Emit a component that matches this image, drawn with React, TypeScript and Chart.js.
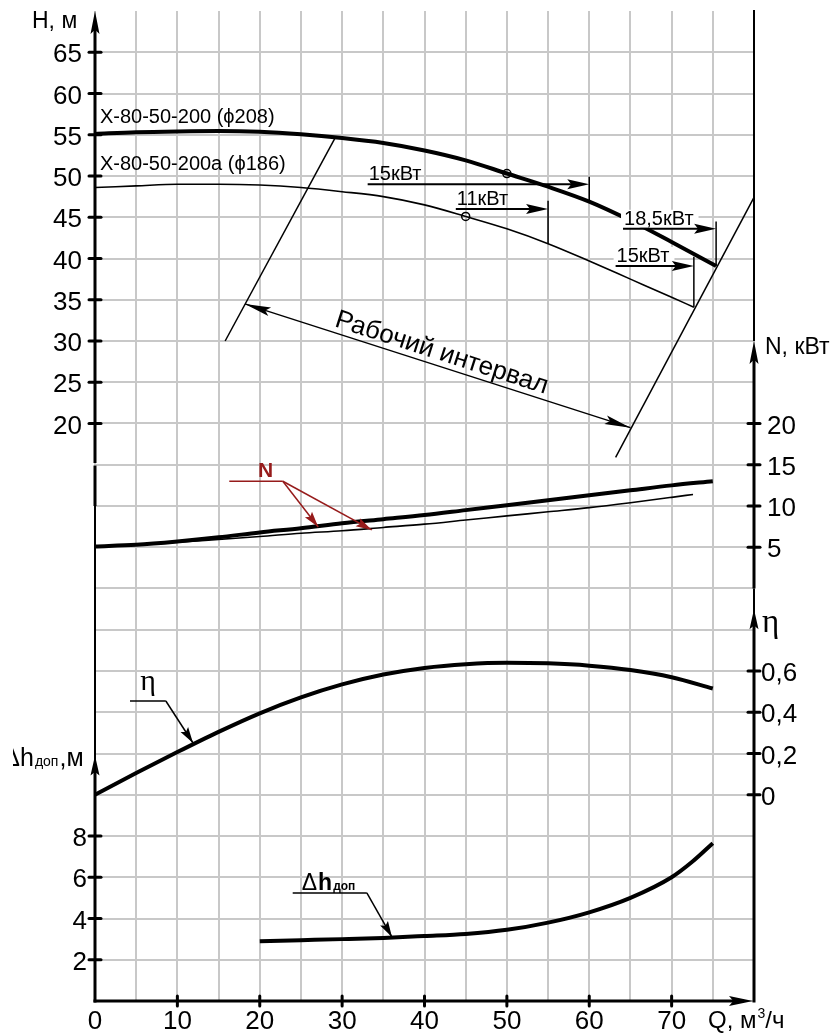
import React, { useEffect, useRef } from 'react';
import { Chart, registerables } from 'chart.js';

Chart.register(...registerables);

// ---------- Data ----------
// Head H(Q), impeller ϕ208 (thick) and ϕ186 (thin)
const Q_H208 = [0, 5, 10, 15, 20, 25, 30, 35, 40, 45, 50, 55, 60, 65, 70, 75.4];
const H_208 = [55.1, 55.3, 55.4, 55.45, 55.35, 55.05, 54.6, 54.0, 53.1, 51.9, 50.3, 48.7, 46.9, 44.6, 42.0, 39.1];
const Q_H186 = [0, 5, 10, 15, 20, 25, 30, 35, 40, 45, 50, 55, 60, 65, 70, 72.7];
const H_186 = [48.6, 48.8, 49.0, 49.0, 48.9, 48.6, 48.1, 47.5, 46.5, 45.1, 43.6, 41.8, 39.7, 37.5, 35.3, 34.1];
// Power N(Q), кВт
const Q_N208 = [0, 5, 10, 15, 20, 25, 30, 35, 40, 45, 50, 55, 60, 65, 70, 75];
const N_208 = [5.1, 5.3, 5.7, 6.2, 6.8, 7.3, 7.9, 8.4, 8.9, 9.5, 10.1, 10.7, 11.3, 11.9, 12.5, 13.0];
const Q_N186 = [0, 5, 10, 15, 20, 25, 30, 35, 40, 45, 50, 55, 60, 65, 70, 72.6];
const N_186 = [5.1, 5.3, 5.6, 5.95, 6.3, 6.7, 7.0, 7.4, 7.8, 8.3, 8.8, 9.3, 9.8, 10.4, 11.05, 11.4];
// Efficiency η(Q)
const Q_ETA = [0, 5, 10, 15, 20, 25, 30, 35, 40, 45, 50, 55, 60, 65, 70, 75];
const ETA = [0.0, 0.105, 0.207, 0.305, 0.395, 0.472, 0.535, 0.583, 0.615, 0.633, 0.64, 0.637, 0.626, 0.605, 0.57, 0.515];
// Allowed NPSH Δh_доп(Q), м
const Q_DH = [20, 25, 30, 35, 40, 45, 50, 55, 60, 65, 70, 72.5, 75];
const DH = [2.9, 2.95, 3.0, 3.06, 3.15, 3.25, 3.45, 3.8, 4.3, 5.0, 6.0, 6.75, 7.65];

// Duty points (open circles)
const MARK_Q = [50, 45];
const MARK_H = [50.3, 45.1];

// Working interval boundaries (Q, H) and its dimension arrow
const WORK_LEFT_Q = [15.8, 29.2];
const WORK_LEFT_H = [30.0, 54.7];
const WORK_RIGHT_Q = [63.2, 80];
const WORK_RIGHT_H = [15.9, 47.4];
const WORK_ARROW_Q = [18.2, 65.0];
const WORK_ARROW_H = [34.5, 19.5];
const WORK_LABEL = 'Рабочий интервал';

// Motor power markers
const POWER_LABELS = ['15кВт', '11кВт', '18,5кВт', '15кВт'];
const POWER_Q_FROM = [33.1, 43.8, 64.1, 63.2];
const POWER_Q_TO = [60.0, 55.0, 75.4, 72.7];
const POWER_H_LINE = [49.0, 46.0, 43.6, 39.1];
const POWER_H_TOP = [49.9, 47.0, 44.5, 40.2];
const POWER_H_CURVE = [46.9, 41.8, 39.1, 34.1];
const POWER_BG = [false, false, true, true];

// Curve names
const CURVE_NAMES = ['Х-80-50-200 (ϕ208)', 'Х-80-50-200а (ϕ186)'];
const CURVE_NAME_Q = [0.6, 0.6];
const CURVE_NAME_H = [56.4, 50.7];

// Leader annotations
const N_LEADER_Q = [16.3, 22.8, 27.1, 33.6];
const N_LEADER_V = [13.0, 13.0, 7.45, 7.1];
const N_LABEL_AT = [19.8, 13.5];
const ETA_LEADER_Q = [4.25, 8.6, 11.9];
const ETA_LEADER_V = [0.4545, 0.4545, 0.251];
const ETA_LABEL_AT = [5.5, 0.508];
const DH_LEADER_Q = [24.0, 33.0, 36.05];
const DH_LEADER_V = [5.24, 5.24, 3.1];
const DH_LABEL_AT = [25.1, 5.38];

// Tick labels
const Q_TICKS = [0, 10, 20, 30, 40, 50, 60, 70];
const H_TICKS = [20, 25, 30, 35, 40, 45, 50, 55, 60, 65];
const DH_TICKS = [2, 4, 6, 8];
const N_TICKS = [5, 10, 15, 20];
const ETA_TICKS = [0, 0.2, 0.4, 0.6];

// Axis extents
const Q_RANGE = [0, 80];
const H_RANGE = [-50, 70];
const DH_RANGE = [0, 48];
const N_RANGE = [-50, 70];
const ETA_RANGE = [-1, 3.8];
const H_AXIS_TOP = 70;
const DH_AXIS_TOP = 11.9;
const N_AXIS_TOP = 30;
const ETA_AXIS_TOP = 0.9;

const FONT = '"Liberation Sans", Arial, sans-serif';
const SERIF = '"Liberation Serif", "Times New Roman", serif';
const GRID = '#c8c8c8';
const RED = '#961b1b';
const TICK_SIZE = 26;

const pts = (xs: number[], ys: number[]) => xs.map((x, i) => ({ x, y: ys[i] }));
const has = (arr: number[], v: number) => arr.some((t) => Math.abs(t - v) < 1e-6);
const etaLabel = (t: number) => (t === 0 ? '0' : t.toFixed(1).replace('.', ','));

function arrowHead(ctx: CanvasRenderingContext2D, tx: number, ty: number, fx: number, fy: number, len: number, half: number, color: string) {
  const a = Math.atan2(ty - fy, tx - fx);
  const c = Math.cos(a), s = Math.sin(a);
  const bx = tx - c * len, by = ty - s * len;
  ctx.beginPath();
  ctx.moveTo(tx, ty);
  ctx.lineTo(bx - s * half, by + c * half);
  ctx.lineTo(tx - c * len * 0.82, ty - s * len * 0.82);
  ctx.lineTo(bx + s * half, by - c * half);
  ctx.closePath();
  ctx.fillStyle = color;
  ctx.fill();
}

const decorPlugin = {
  id: 'decor',
  afterDatasetsDraw(chart: any) {
    const ctx: CanvasRenderingContext2D = chart.ctx;
    const xs = chart.scales.x, yH = chart.scales.yl, yD = chart.scales.yl2, yN = chart.scales.yr, yE = chart.scales.yr2;
    const X = (q: number) => xs.getPixelForValue(q);
    const H = (v: number) => yH.getPixelForValue(v);
    const D = (v: number) => yD.getPixelForValue(v);
    const N = (v: number) => yN.getPixelForValue(v);
    const E = (v: number) => yE.getPixelForValue(v);
    const seg = (x1: number, y1: number, x2: number, y2: number, w: number, color = '#000', cap: CanvasLineCap = 'butt') => {
      ctx.beginPath();
      ctx.moveTo(x1, y1);
      ctx.lineTo(x2, y2);
      ctx.lineWidth = w;
      ctx.strokeStyle = color;
      ctx.lineCap = cap;
      ctx.stroke();
    };
    const text = (s: string, x: number, y: number, size: number, opts: any = {}) => {
      ctx.font = `${opts.bold ? 'bold ' : ''}${size}px ${opts.family || FONT}`;
      ctx.fillStyle = opts.color || '#000';
      ctx.textAlign = opts.align || 'left';
      ctx.textBaseline = opts.baseline || 'alphabetic';
      ctx.fillText(s, x, y);
      return ctx.measureText(s).width;
    };
    ctx.save();

    const xl = X(Q_RANGE[0]);
    const xr = X(Q_RANGE[1]);
    const yb = D(0);

    // ----- Left axes -----
    const hTop = H(H_AXIS_TOP);
    seg(xl, hTop + 10, xl, H(15.2), 3);
    seg(xl, H(14.9), xl, H(10), 3);
    seg(xl, H(10), xl, D(DH_AXIS_TOP) + 10, 2);
    arrowHead(ctx, xl, hTop, xl, hTop + 50, 23, 4.5, '#000');
    const dTop = D(DH_AXIS_TOP);
    seg(xl, yb + 1.5, xl, dTop + 10, 3);
    arrowHead(ctx, xl, dTop, xl, dTop + 50, 20, 4.5, '#000');
    H_TICKS.forEach((v) => seg(xl - 6, H(v), xl + 6, H(v), 3, '#000', 'round'));
    DH_TICKS.forEach((v) => {
      seg(xl - 6, D(v), xl + 6, D(v), 3, '#000', 'round');
      text(String(v), xl - 8, D(v) + 3, TICK_SIZE, { align: 'right', baseline: 'middle' });
    });

    // ----- Right axes -----
    const nTop = N(N_AXIS_TOP);
    const eTop = E(ETA_AXIS_TOP);
    seg(xr, H(H_AXIS_TOP) - 1, xr, nTop, 2);
    seg(xr, N(0), xr, nTop + 10, 3);
    arrowHead(ctx, xr, nTop, xr, nTop + 50, 23, 4.5, '#000');
    seg(xr, N(0), xr, eTop + 10, 2);
    seg(xr, yb + 1.5, xr, eTop + 10, 3);
    arrowHead(ctx, xr, eTop, xr, eTop + 50, 20, 4.5, '#000');
    N_TICKS.forEach((v) => seg(xr - 6, N(v), xr + 6, N(v), 3, '#000', 'round'));
    ETA_TICKS.forEach((v) => {
      seg(xr - 6, E(v), xr + 6, E(v), 3, '#000', 'round');
      text(etaLabel(v), xr + 7, E(v) + 3, TICK_SIZE, { baseline: 'middle' });
    });

    // ----- X axis -----
    seg(xl - 1.5, yb, xr - 10, yb, 3);
    arrowHead(ctx, xr - 1, yb, xr - 60, yb, 24, 5, '#000');
    Q_TICKS.filter((q) => q > 0).forEach((q) => seg(X(q), yb - 5, X(q), yb + 5, 3, '#000', 'round'));

    // ----- Axis titles -----
    text('H, м', xl - 63, hTop + 17, 23);
    text('N, кВт', xr + 11, nTop + 13, 23);
    text('η', xr + 8, eTop + 23, 33, { family: SERIF });
    {
      const base = xr - 46;
      const y = yb + 27;
      const w = text('Q, м', base, y, 24);
      const w3 = text('3', base + w + 1, y - 10, 14);
      text('/ч', base + w + w3 + 1, y, 24);
    }
    {
      ctx.save();
      ctx.beginPath();
      ctx.rect(13, dTop - 30, 100, 50);
      ctx.clip();
      const y = dTop + 10;
      ctx.font = `25px ${FONT}`;
      const wd = ctx.measureText('Δ').width;
      let x = 20 - wd;
      x += text('Δ', x, y, 25);
      x += text('h', x, y, 25);
      x += text('доп', x + 1, y, 14) + 2;
      text(',м', x, y, 25);
      ctx.restore();
    }

    // ----- Curve names -----
    CURVE_NAMES.forEach((s, i) => text(s, X(CURVE_NAME_Q[i]), H(CURVE_NAME_H[i]), 20));

    // ----- Working interval -----
    {
      const x1 = X(WORK_ARROW_Q[0]), y1 = H(WORK_ARROW_H[0]);
      const x2 = X(WORK_ARROW_Q[1]), y2 = H(WORK_ARROW_H[1]);
      seg(x1, y1, x2, y2, 1.5);
      arrowHead(ctx, x1, y1, x2, y2, 26, 4.5, '#000');
      arrowHead(ctx, x2, y2, x1, y1, 26, 4.5, '#000');
      const a = Math.atan2(y2 - y1, x2 - x1);
      const mx = (x1 + x2) / 2, my = (y1 + y2) / 2;
      ctx.save();
      ctx.translate(mx + Math.sin(a) * 6, my - Math.cos(a) * 6);
      ctx.rotate(a);
      text(WORK_LABEL, 0, 0, 26, { align: 'center' });
      ctx.restore();
    }

    // ----- Power markers -----
    POWER_LABELS.forEach((s, i) => {
      const xa = X(POWER_Q_FROM[i]), xb = X(POWER_Q_TO[i]);
      const yl = H(POWER_H_LINE[i]);
      ctx.font = `20px ${FONT}`;
      const w = ctx.measureText(s).width;
      if (POWER_BG[i]) {
        ctx.fillStyle = '#fff';
        ctx.fillRect(xa - 2, yl - 19, w + 8, 18);
      }
      text(s, xa + 1, yl - 4, 20);
      seg(xa, yl, xb - 12, yl, 2);
      arrowHead(ctx, xb, yl, xa, yl, 22, 5, '#000');
      seg(xb, H(POWER_H_TOP[i]), xb, H(POWER_H_CURVE[i]), 1.5);
    });

    // ----- N leader (red) -----
    {
      const p = N_LEADER_Q.map((q, i) => [X(q), N(N_LEADER_V[i])]);
      text('N', X(N_LABEL_AT[0]), N(N_LABEL_AT[1]), 21, { bold: true, color: RED });
      seg(p[0][0], p[0][1], p[1][0], p[1][1], 1.5, RED);
      seg(p[1][0], p[1][1], p[2][0], p[2][1], 1.5, RED);
      seg(p[1][0], p[1][1], p[3][0], p[3][1], 1.5, RED);
      arrowHead(ctx, p[2][0], p[2][1], p[1][0], p[1][1], 16, 4.5, RED);
      arrowHead(ctx, p[3][0], p[3][1], p[1][0], p[1][1], 16, 4.5, RED);
    }

    // ----- η leader -----
    {
      const p = ETA_LEADER_Q.map((q, i) => [X(q), E(ETA_LEADER_V[i])]);
      text('η', X(ETA_LABEL_AT[0]), E(ETA_LABEL_AT[1]), 30, { family: SERIF });
      seg(p[0][0], p[0][1], p[1][0], p[1][1], 1.5);
      seg(p[1][0], p[1][1], p[2][0], p[2][1], 1.5);
      arrowHead(ctx, p[2][0], p[2][1], p[1][0], p[1][1], 16, 4.5, '#000');
    }

    // ----- Δh leader -----
    {
      const p = DH_LEADER_Q.map((q, i) => [X(q), D(DH_LEADER_V[i])]);
      let x = X(DH_LABEL_AT[0]);
      const y = D(DH_LABEL_AT[1]);
      x += text('Δ', x, y, 23);
      x += text('h', x + 1, y, 23, { bold: true }) + 1;
      text('доп', x + 1, y, 12, { bold: true });
      seg(p[0][0], p[0][1], p[1][0], p[1][1], 1.5);
      seg(p[1][0], p[1][1], p[2][0], p[2][1], 1.5);
      arrowHead(ctx, p[2][0], p[2][1], p[1][0], p[1][1], 16, 4.5, '#000');
    }

    ctx.restore();
  },
};

export default function App() {
  const ref = useRef<HTMLCanvasElement>(null);

  useEffect(() => {
    if (!ref.current) return;
    const tickFont = { family: FONT, size: TICK_SIZE };
    const curve = (data: any[], axis: string, width: number) => ({
      data,
      yAxisID: axis,
      borderColor: '#000',
      borderWidth: width,
      pointRadius: 0,
      fill: false,
      cubicInterpolationMode: 'monotone' as const,
    });
    const straight = (data: any[]) => ({
      data,
      yAxisID: 'yl',
      borderColor: '#000',
      borderWidth: 1.5,
      pointRadius: 0,
      fill: false,
      tension: 0,
    });

    const chart = new Chart(ref.current, {
      type: 'line',
      data: {
        datasets: [
          curve(pts(Q_H208, H_208), 'yl', 4),
          curve(pts(Q_H186, H_186), 'yl', 1.6),
          curve(pts(Q_N208, N_208), 'yr', 4),
          curve(pts(Q_N186, N_186), 'yr', 1.6),
          curve(pts(Q_ETA, ETA), 'yr2', 4),
          curve(pts(Q_DH, DH), 'yl2', 4),
          straight(pts(WORK_LEFT_Q, WORK_LEFT_H)),
          straight(pts(WORK_RIGHT_Q, WORK_RIGHT_H)),
          {
            data: pts(MARK_Q, MARK_H),
            yAxisID: 'yl',
            showLine: false,
            pointRadius: 4,
            pointBorderWidth: 1.5,
            pointBorderColor: '#000',
            pointBackgroundColor: 'rgba(0,0,0,0)',
          },
        ] as any,
      },
      options: {
        responsive: false,
        animation: false,
        devicePixelRatio: 1,
        events: [],
        layout: { padding: { left: 8, right: 0, top: 11, bottom: 0 } },
        plugins: { legend: { display: false }, tooltip: { enabled: false }, title: { display: false } },
        scales: {
          x: {
            type: 'linear',
            position: 'bottom',
            min: Q_RANGE[0],
            max: Q_RANGE[1],
            afterFit: (s: any) => { s.height = 35; s.paddingLeft = 0; s.paddingRight = 0; },
            ticks: {
              stepSize: 5,
              autoSkip: false,
              maxRotation: 0,
              minRotation: 0,
              padding: 5,
              font: tickFont,
              color: '#000',
              callback: (v: any) => (has(Q_TICKS, Number(v)) ? String(v) : ''),
            },
            grid: { color: GRID, lineWidth: 2, drawTicks: false },
            border: { display: false },
          },
          yl: {
            type: 'linear',
            position: 'left',
            weight: 1,
            min: H_RANGE[0],
            max: H_RANGE[1],
            afterFit: (s: any) => { s.width = 87; s.paddingTop = 0; s.paddingBottom = 0; },
            ticks: {
              stepSize: 5,
              autoSkip: false,
              padding: 13,
              labelOffset: 3,
              font: tickFont,
              color: '#000',
              callback: (v: any) => (has(H_TICKS, Number(v)) ? String(v) : ''),
            },
            grid: {
              color: (c: any) => (c.tick && Math.abs(c.tick.value - H_RANGE[1]) < 1e-6 ? 'rgba(0,0,0,0)' : GRID),
              lineWidth: 2,
              drawTicks: false,
            },
            border: { display: false },
          },
          yl2: {
            type: 'linear',
            position: 'left',
            weight: 0,
            min: DH_RANGE[0],
            max: DH_RANGE[1],
            afterFit: (s: any) => { s.width = 0; s.paddingTop = 0; s.paddingBottom = 0; },
            ticks: { display: false, stepSize: 2 },
            grid: { display: false, drawTicks: false },
            border: { display: false },
          },
          yr: {
            type: 'linear',
            position: 'right',
            weight: 1,
            min: N_RANGE[0],
            max: N_RANGE[1],
            afterFit: (s: any) => { s.width = 77; s.paddingTop = 0; s.paddingBottom = 0; },
            ticks: {
              stepSize: 5,
              autoSkip: false,
              padding: 13,
              labelOffset: 3,
              font: tickFont,
              color: '#000',
              callback: (v: any) => (has(N_TICKS, Number(v)) ? String(v) : ''),
            },
            grid: { display: false, drawTicks: false },
            border: { display: false },
          },
          yr2: {
            type: 'linear',
            position: 'right',
            weight: 0,
            min: ETA_RANGE[0],
            max: ETA_RANGE[1],
            afterFit: (s: any) => { s.width = 0; s.paddingTop = 0; s.paddingBottom = 0; },
            ticks: { display: false, stepSize: 0.2 },
            grid: { display: false, drawTicks: false },
            border: { display: false },
          },
        },
      } as any,
      plugins: [decorPlugin],
    });
    return () => chart.destroy();
  }, []);

  return (
    <div style={{ position: 'absolute', left: 0, top: 0, width: 831, height: 1036, background: '#fff' }}>
      <canvas ref={ref} width={831} height={1036} style={{ display: 'block', width: 831, height: 1036 }} />
    </div>
  );
}
